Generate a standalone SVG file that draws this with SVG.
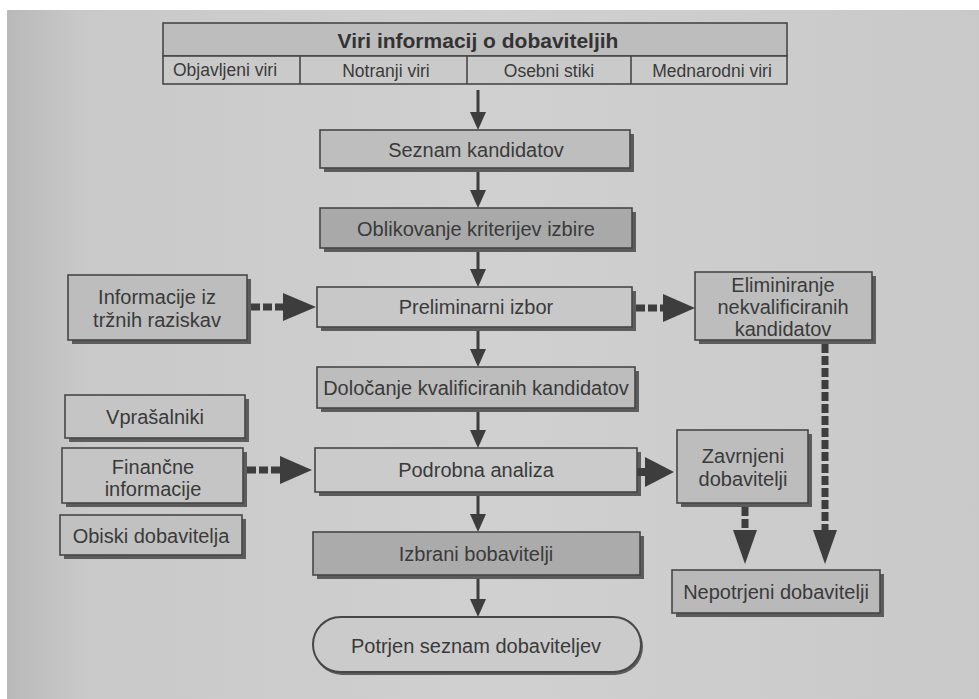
<svg xmlns="http://www.w3.org/2000/svg" width="979" height="699" viewBox="0 0 979 699">
<style>
text{font-family:"Liberation Sans",Arial,sans-serif;fill:#3a3a3a;text-anchor:middle}
.t{font-size:20px}
.s{font-size:17.5px}
.h{font-size:21px;font-weight:bold;fill:#333}
.b{stroke:#474747;stroke-width:1.6}
.sh{fill:#5c5c5c}
.a{stroke:#3d3d3d;stroke-width:3;fill:none}
.d{stroke:#3d3d3d;stroke-width:7;fill:none;stroke-dasharray:9 3}
.hd{fill:#3d3d3d}
</style>
<defs>
<linearGradient id="bg" x1="0" y1="0" x2="1" y2="0">
<stop offset="0" stop-color="#b9b9b9"/>
<stop offset="0.08" stop-color="#c9c9c9"/>
<stop offset="0.5" stop-color="#d0d0d0"/>
<stop offset="1" stop-color="#c9c9c9"/>
</linearGradient>
<marker id="ah" markerUnits="userSpaceOnUse" markerWidth="18" markerHeight="16" refX="0" refY="8" orient="auto">
<path d="M0,0 L18,8 L0,16 Z" fill="#3d3d3d"/>
</marker>
</defs>
<rect x="0" y="0" width="979" height="699" fill="#ffffff"/>
<rect x="7" y="10" width="972" height="689" fill="url(#bg)"/>

<g id="header">
<rect x="163" y="23" width="624" height="33" fill="#bdbdbd" class="b"/>
<rect x="163" y="56" width="624" height="28" fill="#cacaca" class="b"/>
<line x1="300" y1="56" x2="300" y2="84" class="b"/>
<line x1="467" y1="56" x2="467" y2="84" class="b"/>
<line x1="631" y1="56" x2="631" y2="84" class="b"/>
<text x="478" y="48" class="h">Viri informacij o dobaviteljih</text>
<text x="225" y="76" class="s">Objavljeni viri</text>
<text x="386" y="77" class="s">Notranji viri</text>
<text x="549" y="77" class="s">Osebni stiki</text>
<text x="712" y="77" class="s">Mednarodni viri</text>
</g>

<g id="seznam">
<rect x="324" y="134" width="310" height="38" class="sh"/>
<rect x="320" y="130" width="310" height="38" fill="#bebebe" class="b"/>
<text x="476" y="157" class="t">Seznam kandidatov</text>
</g>

<g id="oblikovanje">
<rect x="324" y="212" width="312" height="40" class="sh"/>
<rect x="320" y="208" width="312" height="40" fill="#a9a9a9" class="b"/>
<text x="476" y="236" class="t">Oblikovanje kriterijev izbire</text>
</g>

<g id="preliminarni">
<rect x="321" y="291" width="315" height="40" class="sh"/>
<rect x="317" y="287" width="315" height="40" fill="#c8c8c8" class="b"/>
<text x="476" y="314" class="t">Preliminarni izbor</text>
</g>

<g id="informacije">
<rect x="72" y="279" width="179" height="65" class="sh"/>
<rect x="68" y="275" width="179" height="65" fill="#bdbdbd" class="b"/>
<text x="157" y="304" class="t">Informacije iz</text>
<text x="157" y="327" class="t">tržnih raziskav</text>
</g>

<g id="eliminiranje">
<rect x="699" y="276" width="177" height="68" class="sh"/>
<rect x="695" y="272" width="177" height="68" fill="#bdbdbd" class="b"/>
<text x="783" y="292" class="t">Eliminiranje</text>
<text x="783" y="314" class="t">nekvalificiranih</text>
<text x="783" y="336" class="t">kandidatov</text>
</g>

<g id="dolocanje">
<rect x="321" y="371" width="318" height="41" class="sh"/>
<rect x="317" y="367" width="318" height="41" fill="#bdbdbd" class="b"/>
<text x="476" y="395" class="t">Določanje kvalificiranih kandidatov</text>
</g>

<g id="vprasalniki">
<rect x="69" y="399" width="180" height="43" class="sh"/>
<rect x="65" y="395" width="180" height="43" fill="#c5c5c5" class="b"/>
<text x="155" y="424" class="t">Vprašalniki</text>
</g>

<g id="financne">
<rect x="66" y="452" width="181" height="55" class="sh"/>
<rect x="62" y="448" width="181" height="55" fill="#c5c5c5" class="b"/>
<text x="153" y="474" class="t">Finančne</text>
<text x="153" y="496" class="t">informacije</text>
</g>

<g id="obiski">
<rect x="64" y="519" width="182" height="40" class="sh"/>
<rect x="60" y="515" width="182" height="40" fill="#c1c1c1" class="b"/>
<text x="151" y="543" class="t">Obiski dobavitelja</text>
</g>

<g id="podrobna">
<rect x="319" y="452" width="322" height="44" class="sh"/>
<rect x="315" y="448" width="322" height="44" fill="#cbcbcb" class="b"/>
<text x="476" y="477" class="t">Podrobna analiza</text>
</g>

<g id="zavrnjeni">
<rect x="681" y="434" width="131" height="73" class="sh"/>
<rect x="677" y="430" width="131" height="73" fill="#bdbdbd" class="b"/>
<text x="743" y="463" class="t">Zavrnjeni</text>
<text x="743" y="486" class="t">dobavitelji</text>
</g>

<g id="izbrani">
<rect x="317" y="536" width="327" height="43" class="sh"/>
<rect x="313" y="532" width="327" height="43" fill="#ababab" class="b"/>
<text x="476" y="561" class="t">Izbrani bobavitelji</text>
</g>

<g id="nepotrjeni">
<rect x="676" y="574" width="208" height="43" class="sh"/>
<rect x="672" y="570" width="208" height="43" fill="#b9b9b9" class="b"/>
<text x="776" y="599" class="t">Nepotrjeni dobavitelji</text>
</g>

<g id="potrjen">
<rect x="314" y="619" width="329" height="56" rx="28" fill="#5c5c5c"/>
<rect x="313" y="617" width="328" height="55" rx="27.5" fill="#cbcbcb" stroke="#474747" stroke-width="2"/>
<text x="476" y="653" class="t">Potrjen seznam dobaviteljev</text>
</g>

<g id="connectors">
<line x1="478" y1="90" x2="478" y2="112" class="a" marker-end="url(#ah)"/>
<line x1="478" y1="172" x2="478" y2="190" class="a" marker-end="url(#ah)"/>
<line x1="478" y1="252" x2="478" y2="269" class="a" marker-end="url(#ah)"/>
<line x1="478" y1="331" x2="478" y2="349" class="a" marker-end="url(#ah)"/>
<line x1="478" y1="412" x2="478" y2="430" class="a" marker-end="url(#ah)"/>
<line x1="478" y1="496" x2="478" y2="514" class="a" marker-end="url(#ah)"/>
<line x1="478" y1="579" x2="478" y2="599" class="a" marker-end="url(#ah)"/>

<line x1="251" y1="307" x2="284" y2="307" class="d"/>
<polygon points="283,293 316,307 283,321" class="hd"/>
<line x1="636" y1="308" x2="664" y2="308" class="d"/>
<polygon points="663,294 695,308 663,322" class="hd"/>
<line x1="247" y1="470" x2="281" y2="470" class="d"/>
<polygon points="280,456 312,470 280,484" class="hd"/>
<line x1="637" y1="472" x2="646" y2="472" stroke="#3d3d3d" stroke-width="8"/>
<polygon points="645,457 674,472 645,487" class="hd"/>
<line x1="745" y1="507" x2="745" y2="531" class="d"/>
<polygon points="733,530 757,530 745,564" class="hd"/>
<line x1="825" y1="344" x2="825" y2="531" class="d"/>
<polygon points="813,530 837,530 825,564" class="hd"/>
</g>
</svg>
